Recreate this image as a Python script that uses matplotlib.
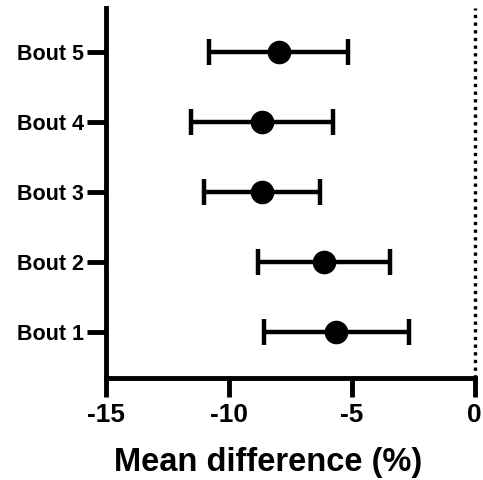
import matplotlib
matplotlib.use("Agg")
import matplotlib.pyplot as plt

# Mean differences with 95% CI per bout
bouts = ["Bout 1", "Bout 2", "Bout 3", "Bout 4", "Bout 5"]
mean_diff = [-5.65, -6.14, -8.66, -8.66, -7.97]
ci_low = [-8.58, -8.82, -11.02, -11.54, -10.81]
ci_high = [-2.68, -3.46, -6.30, -5.77, -5.16]
x_ticks = [-15, -10, -5, 0]

plt.rcParams["font.family"] = ["Liberation Sans", "DejaVu Sans"]
plt.rcParams["font.weight"] = "bold"

fig = plt.figure(figsize=(4.83, 4.80), dpi=100)
ax = fig.add_axes([0.219, 0.213, 0.764, 0.770])

ypos = list(range(1, len(bouts) + 1))
xerr = [[m - lo for m, lo in zip(mean_diff, ci_low)],
        [hi - m for m, hi in zip(mean_diff, ci_high)]]
ax.errorbar(mean_diff, ypos, xerr=xerr, fmt="o", color="black",
            markersize=16, elinewidth=3.2, capsize=9.5, capthick=3.2, zorder=3)

# reference line at zero difference (sits on the axes edge, so no clipping)
ax.axvline(0, color="black", linestyle=(0, (1, 1.3)), linewidth=2.4,
           dash_capstyle="butt", zorder=2, clip_on=False)

ax.set_xlim(-15, 0)
ax.set_ylim(0.34, 5.63)
ax.set_xticks(x_ticks)
ax.set_xticklabels([str(t) for t in x_ticks], fontsize=19, fontweight="bold")
ax.set_yticks(ypos)
ax.set_yticklabels(bouts, fontsize=15.5, fontweight="bold")
ax.set_xlabel("Mean difference (%)", fontsize=23.5, fontweight="bold")
ax.xaxis.set_label_coords(0.44, -0.188)

for side in ("top", "right"):
    ax.spines[side].set_visible(False)
for side in ("left", "bottom"):
    ax.spines[side].set_linewidth(3.5)
    ax.spines[side].set_capstyle("projecting")
ax.tick_params(axis="x", width=3.5, length=14, pad=4)
ax.tick_params(axis="y", width=3.5, length=14, pad=2)

fig.savefig("out.png", dpi=100)
